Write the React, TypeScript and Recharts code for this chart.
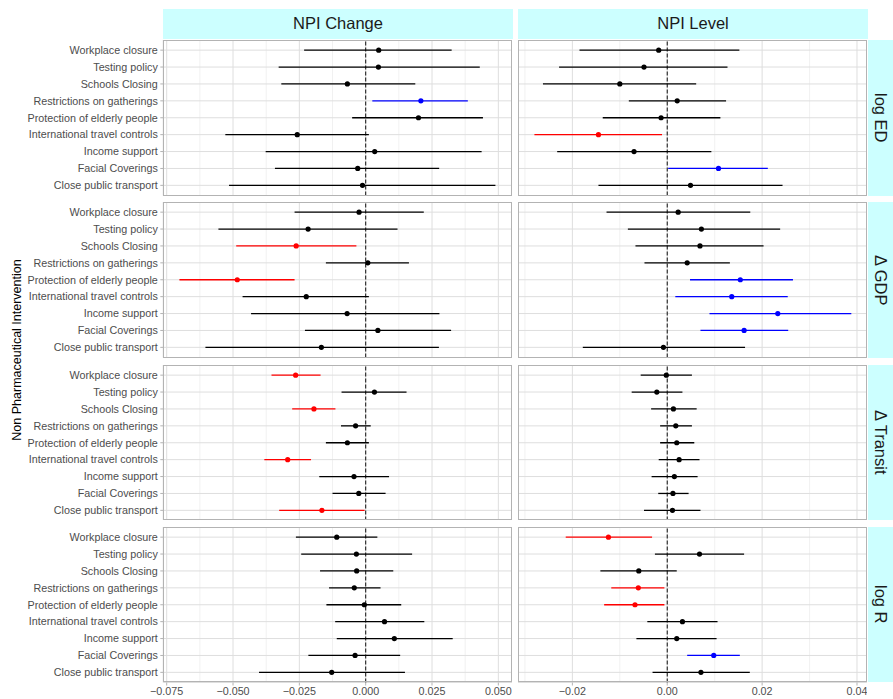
import React from 'react';
import { ScatterChart, Scatter, XAxis, YAxis, CartesianGrid, ErrorBar, ReferenceLine } from 'recharts';

const categories = [
  'Workplace closure',
  'Testing policy',
  'Schools Closing',
  'Restrictions on gatherings',
  'Protection of elderly people',
  'International travel controls',
  'Income support',
  'Facial Coverings',
  'Close public transport',
];

const columnLabels = ['NPI Change', 'NPI Level'];
const rowLabels = ['log ED', '\u0394 GDP', '\u0394 Transit', 'log R'];

// [estimate, lower, upper] for each category
const edChange = [
  [0.0049, -0.0232, 0.0324], [0.0048, -0.0328, 0.043], [-0.0069, -0.0318, 0.0187],
  [0.0208, 0.0025, 0.0385], [0.0199, -0.0051, 0.0442], [-0.0258, -0.0529, 0.0012],
  [0.0034, -0.0377, 0.0437], [-0.003, -0.0342, 0.0277], [-0.0012, -0.0515, 0.0489],
];
const edLevel = [
  [-0.0018, -0.0185, 0.0152], [-0.0049, -0.0228, 0.0127], [-0.01, -0.0262, 0.0061],
  [0.0021, -0.0081, 0.0124], [-0.0013, -0.0136, 0.0112], [-0.0145, -0.028, -0.0011],
  [-0.007, -0.0232, 0.0093], [0.0108, 0.0002, 0.0212], [0.0049, -0.0145, 0.0243],
];
const gdpChange = [
  [-0.0025, -0.0268, 0.0219], [-0.0217, -0.0555, 0.012], [-0.0262, -0.0488, -0.0035],
  [0.0008, -0.015, 0.0163], [-0.0484, -0.0702, -0.0268], [-0.0224, -0.0464, 0.0012],
  [-0.007, -0.0432, 0.0278], [0.0046, -0.0229, 0.0322], [-0.0167, -0.0604, 0.0276],
];
const gdpLevel = [
  [0.0023, -0.0128, 0.0175], [0.0072, -0.0083, 0.0238], [0.0069, -0.0067, 0.0203],
  [0.0042, -0.0048, 0.0132], [0.0154, 0.0048, 0.0265], [0.0136, 0.0017, 0.0254],
  [0.0233, 0.0089, 0.0388], [0.0162, 0.007, 0.0255], [-0.0008, -0.0178, 0.0164],
];
const transitChange = [
  [-0.0264, -0.0355, -0.017], [0.0033, -0.0091, 0.0154], [-0.0195, -0.0277, -0.0114],
  [-0.0038, -0.0093, 0.0019], [-0.0069, -0.015, 0.0012], [-0.0294, -0.0382, -0.0206],
  [-0.0044, -0.0175, 0.0088], [-0.0026, -0.0125, 0.0075], [-0.0165, -0.0326, -0.0004],
];
const transitLevel = [
  [-0.0002, -0.0056, 0.0052], [-0.0022, -0.0075, 0.0032], [0.0013, -0.0034, 0.0062],
  [0.0018, -0.0015, 0.0052], [0.002, -0.0015, 0.0057], [0.0025, -0.0018, 0.0068],
  [0.0015, -0.0033, 0.0064], [0.0012, -0.0019, 0.0045], [0.0011, -0.0049, 0.007],
];
const rChange = [
  [-0.0109, -0.0263, 0.0044], [-0.0035, -0.0243, 0.0175], [-0.0034, -0.0172, 0.0104],
  [-0.0043, -0.0138, 0.0056], [-0.0005, -0.0148, 0.0134], [0.0071, -0.0115, 0.0221],
  [0.0108, -0.0109, 0.0328], [-0.004, -0.0216, 0.013], [-0.0128, -0.0402, 0.0148],
];
const rLevel = [
  [-0.0124, -0.0214, -0.0032], [0.0068, -0.0026, 0.0162], [-0.006, -0.0141, 0.002],
  [-0.0061, -0.0118, -0.0006], [-0.0068, -0.0133, -0.0006], [0.0032, -0.0042, 0.0106],
  [0.002, -0.0065, 0.0104], [0.0098, 0.0042, 0.0153], [0.0071, -0.0031, 0.0174],
];

const panels = [
  [edChange, edLevel],
  [gdpChange, gdpLevel],
  [transitChange, transitLevel],
  [rChange, rLevel],
];

const changeTicks = [-0.075, -0.05, -0.025, 0, 0.025, 0.05];
const changeMinor = [-0.0625, -0.0375, -0.0125, 0.0125, 0.0375];
const levelTicks = [-0.02, 0, 0.02, 0.04];
const levelMinor = [-0.03, -0.01, 0.01, 0.03];

const axes = [
  { domain: [-0.07628, 0.05515], ticks: changeTicks, minor: changeMinor, digits: 3 },
  { domain: [-0.03146, 0.04204], ticks: levelTicks, minor: levelMinor, digits: 2 },
];

const FONT = '"Liberation Sans", Arial, Helvetica, sans-serif';
const PANEL_W = 348.7;
const PANEL_H = 155.5;
const ROW_STEP = 162.3;
const TOP = 40;
const COL_X = [163.3, 518.3];
const Y_AXIS_W = 163.3;
const X_AXIS_H = 16;

const tones = [
  { key: 'ns', color: '#000000' },
  { key: 'neg', color: '#FF0000' },
  { key: 'pos', color: '#0000FF' },
];

const fmt = (v: number, digits: number) => {
  const s = Math.abs(v).toFixed(digits);
  return v < 0 ? '\u2212' + s : s;
};

// plain text tick so long category names never wrap
const CategoryTick = (props: any) => (
  <text
    x={props.x}
    y={props.y}
    dy="0.355em"
    textAnchor="end"
    fill="#4D4D4D"
    fontSize={10.75}
  >
    {categories[props.payload.value]}
  </text>
);

function Panel({ data, col, row }: { data: number[][]; col: number; row: number }) {
  const ax = axes[col];
  const showY = col === 0;
  const showX = row === 3;
  const points = data.map(([est, lo, hi], i) => ({
    pos: i,
    est,
    err: [est - lo, hi - est],
    tone: hi < 0 ? 'neg' : lo > 0 ? 'pos' : 'ns',
  }));
  const width = PANEL_W + (showY ? Y_AXIS_W : 0);
  const height = PANEL_H + (showX ? X_AXIS_H : 0);
  return (
    <div
      style={{
        position: 'absolute',
        left: showY ? 0 : COL_X[col],
        top: TOP + row * ROW_STEP,
        width,
        height,
      }}
    >
      <ScatterChart width={width} height={height} margin={{ top: 0, right: 0, bottom: 0, left: 0 }}>
        <CartesianGrid xAxisId="minor" horizontal={false} stroke="#EBEBEB" strokeWidth={0.7} />
        <CartesianGrid stroke="#DEDEDE" strokeWidth={1} />
        <XAxis
          type="number"
          dataKey="est"
          domain={ax.domain}
          ticks={ax.ticks}
          interval={0}
          allowDataOverflow
          hide={!showX}
          height={X_AXIS_H}
          axisLine={false}
          tickLine={{ stroke: '#B3B3B3' }}
          tickSize={3}
          tickMargin={2}
          tick={{ fill: '#4D4D4D', fontSize: 10.75 }}
          tickFormatter={(v: number) => fmt(v, ax.digits)}
        />
        <XAxis
          xAxisId="minor"
          type="number"
          dataKey="est"
          domain={ax.domain}
          ticks={ax.minor}
          interval={0}
          allowDataOverflow
          hide
        />
        <YAxis
          type="number"
          dataKey="pos"
          domain={[-0.6, 8.6]}
          reversed
          ticks={categories.map((_, i) => i)}
          interval={0}
          allowDataOverflow
          hide={!showY}
          width={Y_AXIS_W}
          axisLine={false}
          tickLine={{ stroke: '#B3B3B3' }}
          tickSize={3}
          tickMargin={2.5}
          tick={CategoryTick}
        />
        <ReferenceLine x={0} stroke="#222222" strokeWidth={1.1} strokeDasharray="4 2" />
        {tones.map((t) => (
          <Scatter
            key={t.key}
            data={points.filter((p) => p.tone === t.key)}
            fill={t.color}
            isAnimationActive={false}
            shape={(p: any) => <circle cx={p.cx} cy={p.cy} r={2.6} fill={t.color} />}
          >
            <ErrorBar dataKey="err" direction="x" width={0} stroke={t.color} strokeWidth={1.3} />
          </Scatter>
        ))}
      </ScatterChart>
      <div
        style={{
          position: 'absolute',
          left: showY ? Y_AXIS_W : 0,
          top: 0,
          width: PANEL_W,
          height: PANEL_H,
          border: '1px solid #B3B3B3',
          boxSizing: 'border-box',
          pointerEvents: 'none',
        }}
      />
    </div>
  );
}

export default function App() {
  return (
    <div
      style={{
        position: 'absolute',
        left: 0,
        top: 0,
        width: 893,
        height: 699,
        background: '#ffffff',
        fontFamily: FONT,
        overflow: 'hidden',
      }}
    >
      {columnLabels.map((label, c) => (
        <div
          key={label}
          style={{
            position: 'absolute',
            left: COL_X[c],
            top: 9.3,
            width: PANEL_W + 0.7,
            height: 29.5,
            background: '#CCFFFF',
            color: '#1A1A1A',
            fontSize: 16.5,
            lineHeight: '29.5px',
            textAlign: 'center',
          }}
        >
          {label}
        </div>
      ))}
      {rowLabels.map((label, r) => (
        <div
          key={label}
          style={{
            position: 'absolute',
            left: 867.7,
            top: TOP + r * ROW_STEP,
            width: 25.3,
            height: PANEL_H,
            background: '#CCFFFF',
            color: '#1A1A1A',
            fontSize: 16.5,
            display: 'flex',
            alignItems: 'center',
            justifyContent: 'center',
          }}
        >
          <span style={{ writingMode: 'vertical-rl', whiteSpace: 'nowrap' }}>{label}</span>
        </div>
      ))}
      {panels.map((pair, r) =>
        pair.map((data, c) => <Panel key={`${r}-${c}`} data={data} col={c} row={r} />)
      )}
      <div
        style={{
          position: 'absolute',
          left: 17,
          top: 350,
          transform: 'translate(-50%, -50%) rotate(-90deg)',
          whiteSpace: 'nowrap',
          fontSize: 12.5,
          color: '#000000',
        }}
      >
        Non Pharmaceutical Intervention
      </div>
    </div>
  );
}
